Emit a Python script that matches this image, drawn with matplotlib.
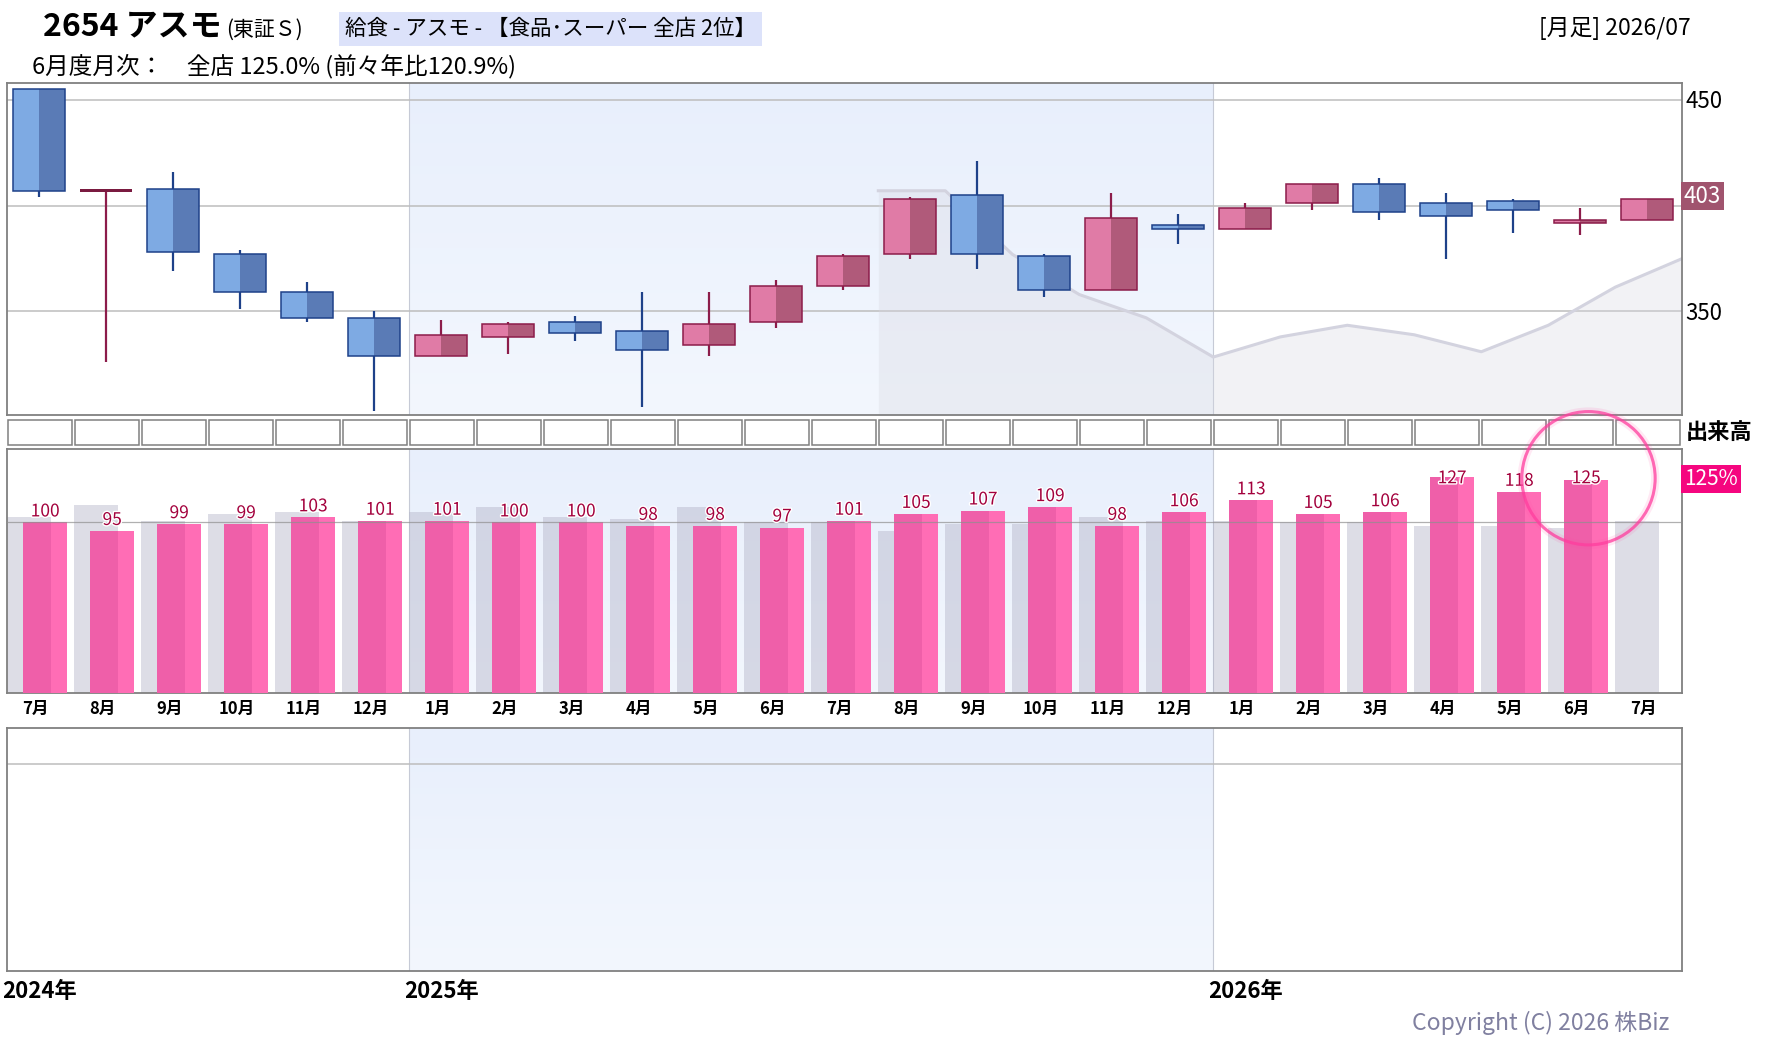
import numpy as np
import matplotlib
matplotlib.use('Agg')
import matplotlib.pyplot as plt
import matplotlib.transforms as mtransforms
import matplotlib.patheffects as pe
from matplotlib.patches import Rectangle
from matplotlib.colors import LinearSegmentedColormap

plt.rcParams['font.family'] = ['Noto Sans CJK JP', 'DejaVu Sans']

# ---- data (monthly, 2024/07 - 2026/07) ----
months = ['7月', '8月', '9月', '10月', '11月', '12月', '1月', '2月', '3月', '4月', '5月', '6月',
          '7月', '8月', '9月', '10月', '11月', '12月', '1月', '2月', '3月', '4月', '5月', '6月', '7月']
years = ['2024年', '2025年', '2026年']
year_start = [0, 6, 18]

opens = [455, 407, 408, 377, 359, 347, 329, 338, 345, 341, 334, 345, 362,
         377, 405, 376, 360, 391, 389, 401, 410, 401, 402, 392, 393]
highs = [455, 407, 416, 379, 364, 350, 346, 345, 348, 359, 359, 365, 377,
         404, 421, 377, 406, 396, 401, 410, 413, 406, 403, 399, 403]
lows = [404, 326, 369, 351, 345, 303, 329, 330, 336, 305, 329, 342, 360,
        375, 370, 357, 360, 382, 389, 398, 393, 375, 387, 386, 393]
closes = [407, 407, 378, 359, 347, 329, 339, 344, 340, 332, 344, 362, 376,
          403, 377, 360, 394, 389, 399, 410, 397, 395, 398, 393, 403]

# moving average line (drawn at month boundaries)
ma_x = [13, 14, 15, 16, 17, 18, 19, 20, 21, 22, 23, 24, 25]
ma_vals = [407, 407, 377, 358, 347, 328.5, 338, 343.5, 339, 331, 343.5, 361.5, 375]

# monthly sales (all stores, YoY %)
sales = [100, 95, 99, 99, 103, 101, 101, 100, 100, 98, 98, 97,
         101, 105, 107, 109, 98, 106, 113, 105, 106, 127, 118, 125]
sales_prev = [103, 110, 101, 105, 106, 101, 106, 109, 103, 102, 109, 100,
              100, 95, 99, 99, 103, 101, 101, 100, 100, 98, 98, 97, 101]

price_grid = [350, 400, 450]
price_ticks = [450, 350]

# ---- layout ----
W, H = 1780, 1054
fig = plt.figure(figsize=(W / 100, H / 100), dpi=100)


def box(l, t, r, b):
    return [l / W, 1 - b / H, (r - l) / W, (b - t) / H]


def ftext(x, y, s, **kw):
    return fig.text(x / W, 1 - y / H, s, **kw)


ax_p = fig.add_axes(box(7.3, 82.7, 1682.3, 415.3))
ax_s = fig.add_axes(box(7.3, 419.3, 1682.3, 445.3))
ax_b = fig.add_axes(box(7.3, 449.3, 1682.3, 692.7))
ax_e = fig.add_axes(box(7.3, 727.7, 1682.3, 970.7))

n = len(months)
shade_cmap = LinearSegmentedColormap.from_list('shade', ['#e8effc', '#f3f7fe'])
border = '#808080'


def setup(ax, y0, y1):
    grad = np.linspace(0, 1, 200).reshape(-1, 1)
    ax.imshow(grad, extent=[year_start[1], year_start[2], y0, y1], aspect='auto',
              cmap=shade_cmap, zorder=0, interpolation='bilinear')
    for x in year_start[1:]:
        ax.axvline(x, color='#c6cad6', lw=0.8, zorder=1)
    ax.set_xlim(0, n)
    ax.set_ylim(y0, y1)
    ax.set_xticks([])
    ax.set_yticks([])
    for sp in ax.spines.values():
        sp.set_color(border)
        sp.set_linewidth(1.3)


# ---- price panel ----
setup(ax_p, 301, 458)
for g in price_grid:
    ax_p.axhline(g, color='#bdbdbd', lw=1.1, zorder=1)
ax_p.fill_between(ma_x, ma_vals, 301, color='#d8d8e1', alpha=0.33, lw=0, zorder=1.5)
ax_p.plot(ma_x, ma_vals, color='#d3d3df', lw=2.2, zorder=2)

for i in range(n):
    o, h, l, c = opens[i], highs[i], lows[i], closes[i]
    if c >= o:
        light, dark, edge = '#e07ba6', '#b05a7a', '#8c1c4a'
    else:
        light, dark, edge = '#7eaae3', '#5a7bb6', '#1e4189'
    x0, w = i + 0.09, 0.776
    ax_p.vlines(i + 0.478, l, h, color=edge, lw=1.6, zorder=3)
    bot = min(o, c)
    ht = max(abs(c - o), 1.0)
    if c == o and i == 1:
        ax_p.add_patch(Rectangle((x0, bot - 0.6), w, 1.4, fc='#7a1a40', ec='none', zorder=4))
        continue
    ax_p.add_patch(Rectangle((x0, bot), w / 2, ht, fc=light, ec='none', zorder=4))
    ax_p.add_patch(Rectangle((x0 + w / 2, bot), w / 2, ht, fc=dark, ec='none', zorder=4))
    ax_p.add_patch(Rectangle((x0, bot), w, ht, fc='none', ec=edge, lw=1.1, zorder=5))

tr_p = mtransforms.blended_transform_factory(ax_p.transAxes, ax_p.transData)
for t in price_ticks:
    ax_p.text(1.002, t - 0.8, str(t), transform=tr_p, ha='left', va='center', fontsize=16)
ax_p.text(1.0008, closes[-1] + 1.5, str(closes[-1]), transform=tr_p, ha='left', va='center',
          fontsize=16, color='white',
          bbox=dict(boxstyle='square,pad=0.12', fc='#a0546e', ec='none'))

# ---- empty volume strip ----
ax_s.set_xlim(0, n)
ax_s.set_ylim(0, 1)
ax_s.axis('off')
for i in range(n):
    ax_s.add_patch(Rectangle((i + 0.015, 0.03), 0.955, 0.94, fc='white', ec=border,
                             lw=1.1, clip_on=False))
ftext(1686, 432, '出来高', fontsize=16, fontweight='bold', ha='left', va='center')

# ---- monthly sales bars ----
setup(ax_b, 0, 143)
ax_b.bar(np.arange(n), sales_prev, width=0.65, align='edge', color='#b4b4c8', alpha=0.45,
         zorder=2)
xs = np.arange(len(sales))
ax_b.bar(xs + 0.24, sales, width=0.41, align='edge', color='#ef5fa9', zorder=3)
ax_b.bar(xs + 0.65, sales, width=0.24, align='edge', color='#ff6db5', zorder=3)
ax_b.axhline(100, color='#8f8f8f', lw=0.9, alpha=0.7, zorder=4)
for i, v in enumerate(sales):
    ax_b.text(i + 0.565, min(v + 6.5, 126), str(v), ha='center', va='center', fontsize=12.5,
              color='#a3003c', zorder=6,
              path_effects=[pe.withStroke(linewidth=2, foreground='white')])

tr_b = ax_b.get_xaxis_transform()
for i, m in enumerate(months):
    ax_b.text(i + 0.42, -0.067, m, transform=tr_b, ha='center', va='center', fontsize=12,
              fontweight='bold')

ax_b.scatter([len(sales) - 0.4], [126], s=96 ** 2, facecolors='none', edgecolors='#ff4da6',
             linewidths=6, alpha=0.12, clip_on=False, zorder=7)
ax_b.scatter([len(sales) - 0.4], [126], s=96 ** 2, facecolors='none', edgecolors='#ff3d9e',
             linewidths=2.2, alpha=0.75, clip_on=False, zorder=7)

tr_bb = mtransforms.blended_transform_factory(ax_b.transAxes, ax_b.transData)
ax_b.text(1.0008, sales[-1] + 0.5, '%d%%' % sales[-1], transform=tr_bb, ha='left', va='center',
          fontsize=15, color='white',
          bbox=dict(boxstyle='square,pad=0.15', fc='#f5067f', ec='none'))

# ---- empty bottom panel ----
setup(ax_e, 0, 1)
ax_e.axhline(0.85, color='#bdbdbd', lw=1.1, zorder=1)
tr_e = ax_e.get_xaxis_transform()
for x, y in zip(year_start, years):
    ax_e.text(x - 0.08, -0.087, y, transform=tr_e, ha='left', va='center', fontsize=16,
              fontweight='bold')

# ---- header / footer texts ----
ftext(43, 26, '2654 アスモ', fontsize=23, fontweight='bold', ha='left', va='center')
ftext(226, 30, '(東証Ｓ)', fontsize=15, ha='left', va='center')
ftext(345, 29, '給食 - アスモ - 【食品･スーパー 全店 2位】', fontsize=15.5, ha='left',
      va='center', bbox=dict(boxstyle='square,pad=0.28', fc='#dce2fa', ec='none'))
ftext(1691, 29, '[月足] 2026/07', fontsize=16.5, ha='right', va='center')
ftext(32, 66, '6月度月次：　全店 125.0% (前々年比120.9%)', fontsize=17, ha='left', va='center')
ftext(1669, 1023, 'Copyright (C) 2026 株Biz', fontsize=16.5, color='#8080a0', ha='right',
      va='center')

fig.savefig('out.png', dpi=100)
